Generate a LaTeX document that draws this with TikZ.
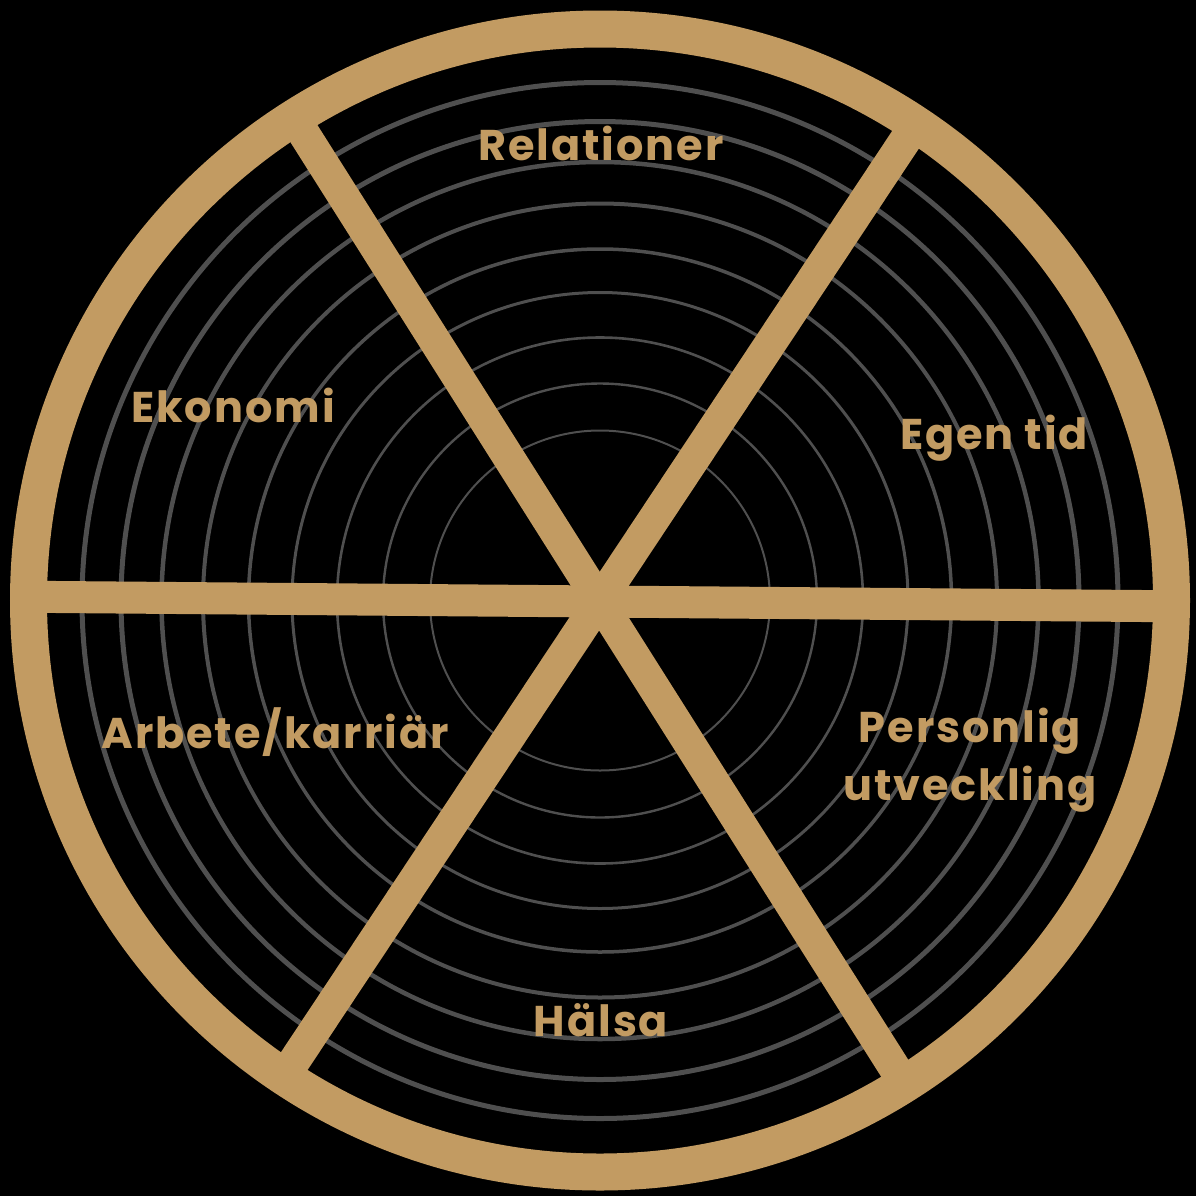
\documentclass[tikz,border=0pt]{standalone}
\usepackage{fontspec}
\newfontfamily\labfont{Poppins}[LetterSpace=4.5]
\definecolor{gold}{HTML}{C29B62}
\definecolor{ringgray}{HTML}{4F4F4F}
\begin{document}
\begin{tikzpicture}[x=0.5pt,y=-0.5pt,
  ringline/.style={draw=ringgray},
  spoke/.style={draw=gold,line width=16pt},
  rim/.style={draw=gold,line width=18.5pt},
  lab/.style={text=gold,font=\labfont\bfseries\fontsize{21.5}{24}\selectfont,anchor=base,inner sep=0pt}]
\fill[black] (0,0) rectangle (1196,1196);
\useasboundingbox (0,0) rectangle (1196,1196);
\coordinate (c) at (600,600.5);
% concentric circles
\foreach \r/\w in {518/2.5,479/2.5,438.5/2.25,397/2,351.5/1.75,308/1.5,263/1.3,217/1.2,170/1}{
  \draw[ringline,line width=\w pt] (c) circle[radius=\r*0.5pt];
}
% spoke end points
\coordinate (h1) at (33,596.8);
\coordinate (h2) at (1167,606.2);
\coordinate (d1) at (301,129);
\coordinate (d2) at (899,1075);
\coordinate (e1) at (908,136);
\coordinate (e2) at (291,1066);
\draw[spoke] (h1) -- (h2);
\draw[spoke] (d1) -- (d2);
\draw[spoke] (e1) -- (e2);
% outer rim
\draw[rim] (c) circle[radius=285.75pt];
% labels
\node[lab] (rel) at (601,160) {Relationer};
\node[lab] (egen) at (994,449) {Egen tid};
\node[lab] (pers1) at (970,742) {Personlig};
\node[lab] (pers2) at (970,800) {utveckling};
\node[lab] (hals) at (601,1036) {Hälsa};
\node[lab] (arb) at (275,748) {Arbete/karriär};
\node[lab] (eko) at (233,422) {Ekonomi};
\end{tikzpicture}
\end{document}
